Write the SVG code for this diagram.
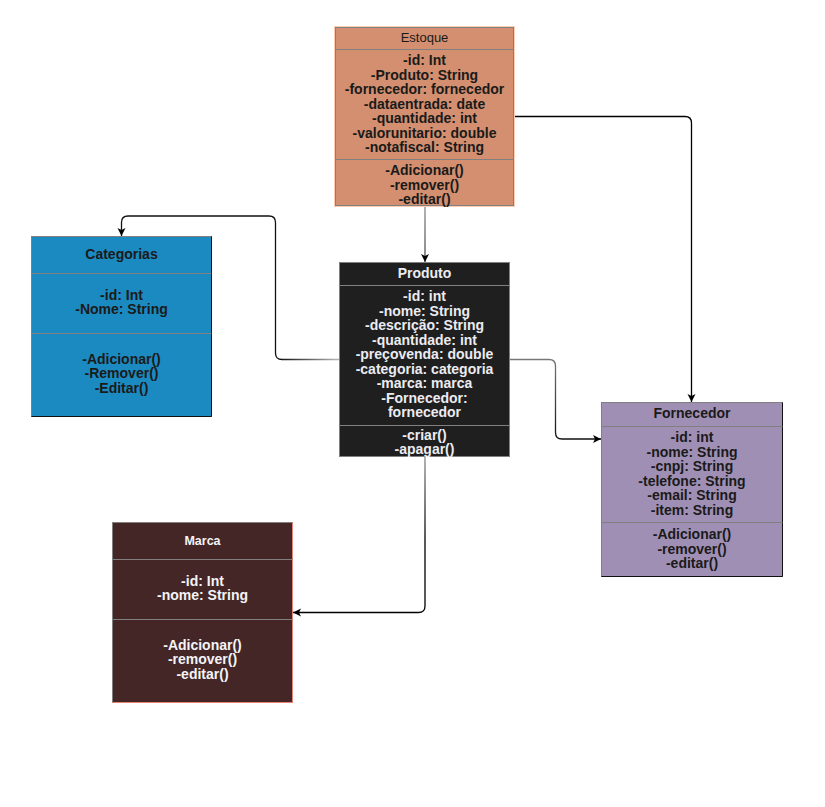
<svg xmlns="http://www.w3.org/2000/svg" width="825" height="807" viewBox="0 0 825 807">
<style>
text{font-family:"Liberation Sans",Arial,sans-serif;text-anchor:middle}
.a{font-size:14px;font-weight:bold}
.h{font-size:14px;font-weight:bold}
.dk{fill:#1a1a1a}
.lt{fill:#ececf2}
.wh{fill:#f4f4f8}
.sep{stroke:#808080;stroke-width:1;fill:none}
.con{fill:none;stroke-width:1.3}
</style>
<defs>
<marker id="arr" markerUnits="userSpaceOnUse" markerWidth="9" markerHeight="9" refX="8" refY="4" orient="auto">
<path d="M0,0 L8,4 L0,8 L2,4 z" fill="#000"/>
</marker>
<linearGradient id="g1" gradientUnits="userSpaceOnUse" x1="0" y1="206" x2="0" y2="262"><stop offset="0" stop-color="#8a8a8a"/><stop offset="1" stop-color="#444"/></linearGradient>
<linearGradient id="g3" gradientUnits="userSpaceOnUse" x1="336" y1="0" x2="280" y2="0"><stop offset="0" stop-color="#b0b0b0"/><stop offset="1" stop-color="#111"/></linearGradient>
<linearGradient id="g4" gradientUnits="userSpaceOnUse" x1="0" y1="360" x2="0" y2="439"><stop offset="0" stop-color="#777"/><stop offset="1" stop-color="#111"/></linearGradient>
<linearGradient id="g5" gradientUnits="userSpaceOnUse" x1="0" y1="457" x2="0" y2="540"><stop offset="0" stop-color="#888"/><stop offset="1" stop-color="#000"/></linearGradient>
</defs>
<rect width="825" height="807" fill="#fff"/>

<g id="connectors">
<path class="con" stroke="url(#g1)" d="M425,206 L425,262" marker-end="url(#arr)"/>
<path class="con" stroke="#000" d="M514,116.5 L685,116.5 Q691.5,116.5 691.5,123 L691.5,402" marker-end="url(#arr)"/>
<path class="con" stroke="url(#g3)" d="M339,359.5 L282,359.5 Q275.5,359.5 275.5,353 L275.5,222.5 Q275.5,216 269,216 L128,216 Q121.5,216 121.5,222.5 L121.5,236" marker-end="url(#arr)"/>
<path class="con" stroke="url(#g4)" d="M510,359.5 L549,359.5 Q555.5,359.5 555.5,366 L555.5,432.5 Q555.5,439 562,439 L601,439" marker-end="url(#arr)"/>
<path class="con" stroke="url(#g5)" d="M425,457 L425,606 Q425,612.5 418.5,612.5 L293,612.5" marker-end="url(#arr)"/>
</g>

<g id="estoque">
<rect x="334.5" y="26.5" width="180" height="180" fill="none" stroke="#ffcdb2"/>
<rect x="335.5" y="27.5" width="178" height="178" fill="#d38f6f" stroke="#808080"/>
<line class="sep" x1="335.5" y1="49.5" x2="513.5" y2="49.5"/>
<line class="sep" x1="335.5" y1="159.5" x2="513.5" y2="159.5"/>
<text x="424.5" y="42" class="dk" font-size="13">Estoque</text>
<text class="a dk" x="424.5" y="65">-id: Int</text>
<text class="a dk" x="424.5" y="79.5">-Produto: String</text>
<text class="a dk" x="424.5" y="94">-fornecedor: fornecedor</text>
<text class="a dk" x="424.5" y="108.5">-dataentrada: date</text>
<text class="a dk" x="424.5" y="123">-quantidade: int</text>
<text class="a dk" x="424.5" y="137.5">-valorunitario: double</text>
<text class="a dk" x="424.5" y="152">-notafiscal: String</text>
<text class="a dk" x="424.5" y="175">-Adicionar()</text>
<text class="a dk" x="424.5" y="189.5">-remover()</text>
<text class="a dk" x="424.5" y="204">-editar()</text>
</g>

<g id="produto">
<rect x="339.5" y="262.5" width="170" height="194" fill="#1f1f1f" stroke="#808080"/>
<line class="sep" x1="339.5" y1="285.5" x2="509.5" y2="285.5"/>
<line class="sep" x1="339.5" y1="425.5" x2="509.5" y2="425.5"/>
<text class="lt" x="424.5" y="278" font-size="14" font-weight="bold">Produto</text>
<text class="a lt" x="424.5" y="301">-id: int</text>
<text class="a lt" x="424.5" y="315.5">-nome: String</text>
<text class="a lt" x="424.5" y="330">-descrição: String</text>
<text class="a lt" x="424.5" y="344.5">-quantidade: int</text>
<text class="a lt" x="424.5" y="359">-preçovenda: double</text>
<text class="a lt" x="424.5" y="373.5">-categoria: categoria</text>
<text class="a lt" x="424.5" y="388">-marca: marca</text>
<text class="a lt" x="424.5" y="402.5">-Fornecedor:</text>
<text class="a lt" x="424.5" y="417">fornecedor</text>
<text class="a lt" x="424.5" y="439.5">-criar()</text>
<text class="a lt" x="424.5" y="454">-apagar()</text>
</g>

<g id="categorias">
<rect x="31.5" y="236.5" width="180" height="180" fill="#1b8ac0" stroke="#808080"/>
<polyline points="211.5,236.5 211.5,416.5 31.5,416.5" fill="none" stroke="#111"/>
<line class="sep" x1="31.5" y1="273.5" x2="211.5" y2="273.5"/>
<line class="sep" x1="31.5" y1="333.5" x2="211.5" y2="333.5"/>
<text class="h dk" x="121.5" y="259">Categorias</text>
<text class="a dk" x="121.5" y="299.5">-id: Int</text>
<text class="a dk" x="121.5" y="314">-Nome: String</text>
<text class="a dk" x="121.5" y="363.5">-Adicionar()</text>
<text class="a dk" x="121.5" y="378">-Remover()</text>
<text class="a dk" x="121.5" y="392.5">-Editar()</text>
</g>

<g id="fornecedor">
<rect x="601.5" y="402.5" width="181" height="174" fill="#a08fb4" stroke="#808080"/>
<polyline points="782.5,402.5 782.5,576.5 601.5,576.5" fill="none" stroke="#111"/>
<line class="sep" x1="601.5" y1="426.5" x2="782.5" y2="426.5"/>
<line class="sep" x1="601.5" y1="522.5" x2="782.5" y2="522.5"/>
<text class="h dk" x="692" y="418">Fornecedor</text>
<text class="a dk" x="692" y="442">-id: int</text>
<text class="a dk" x="692" y="456.5">-nome: String</text>
<text class="a dk" x="692" y="471">-cnpj: String</text>
<text class="a dk" x="692" y="485.5">-telefone: String</text>
<text class="a dk" x="692" y="500">-email: String</text>
<text class="a dk" x="692" y="514.5">-item: String</text>
<text class="a dk" x="692" y="539">-Adicionar()</text>
<text class="a dk" x="692" y="553.5">-remover()</text>
<text class="a dk" x="692" y="568">-editar()</text>
</g>

<g id="marca">
<rect x="112.5" y="522.5" width="180" height="180" fill="#432625" stroke="#808080"/>
<polyline points="292.5,522.5 292.5,702.5 112.5,702.5" fill="none" stroke="#e8837a"/>
<line class="sep" x1="112.5" y1="559.5" x2="292.5" y2="559.5"/>
<line class="sep" x1="112.5" y1="619.5" x2="292.5" y2="619.5"/>
<text class="wh" x="202.5" y="545" font-size="12.5" font-weight="bold">Marca</text>
<text class="a wh" x="202.5" y="585.5">-id: Int</text>
<text class="a wh" x="202.5" y="600">-nome: String</text>
<text class="a wh" x="202.5" y="649.5">-Adicionar()</text>
<text class="a wh" x="202.5" y="664">-remover()</text>
<text class="a wh" x="202.5" y="678.5">-editar()</text>
</g>
</svg>
